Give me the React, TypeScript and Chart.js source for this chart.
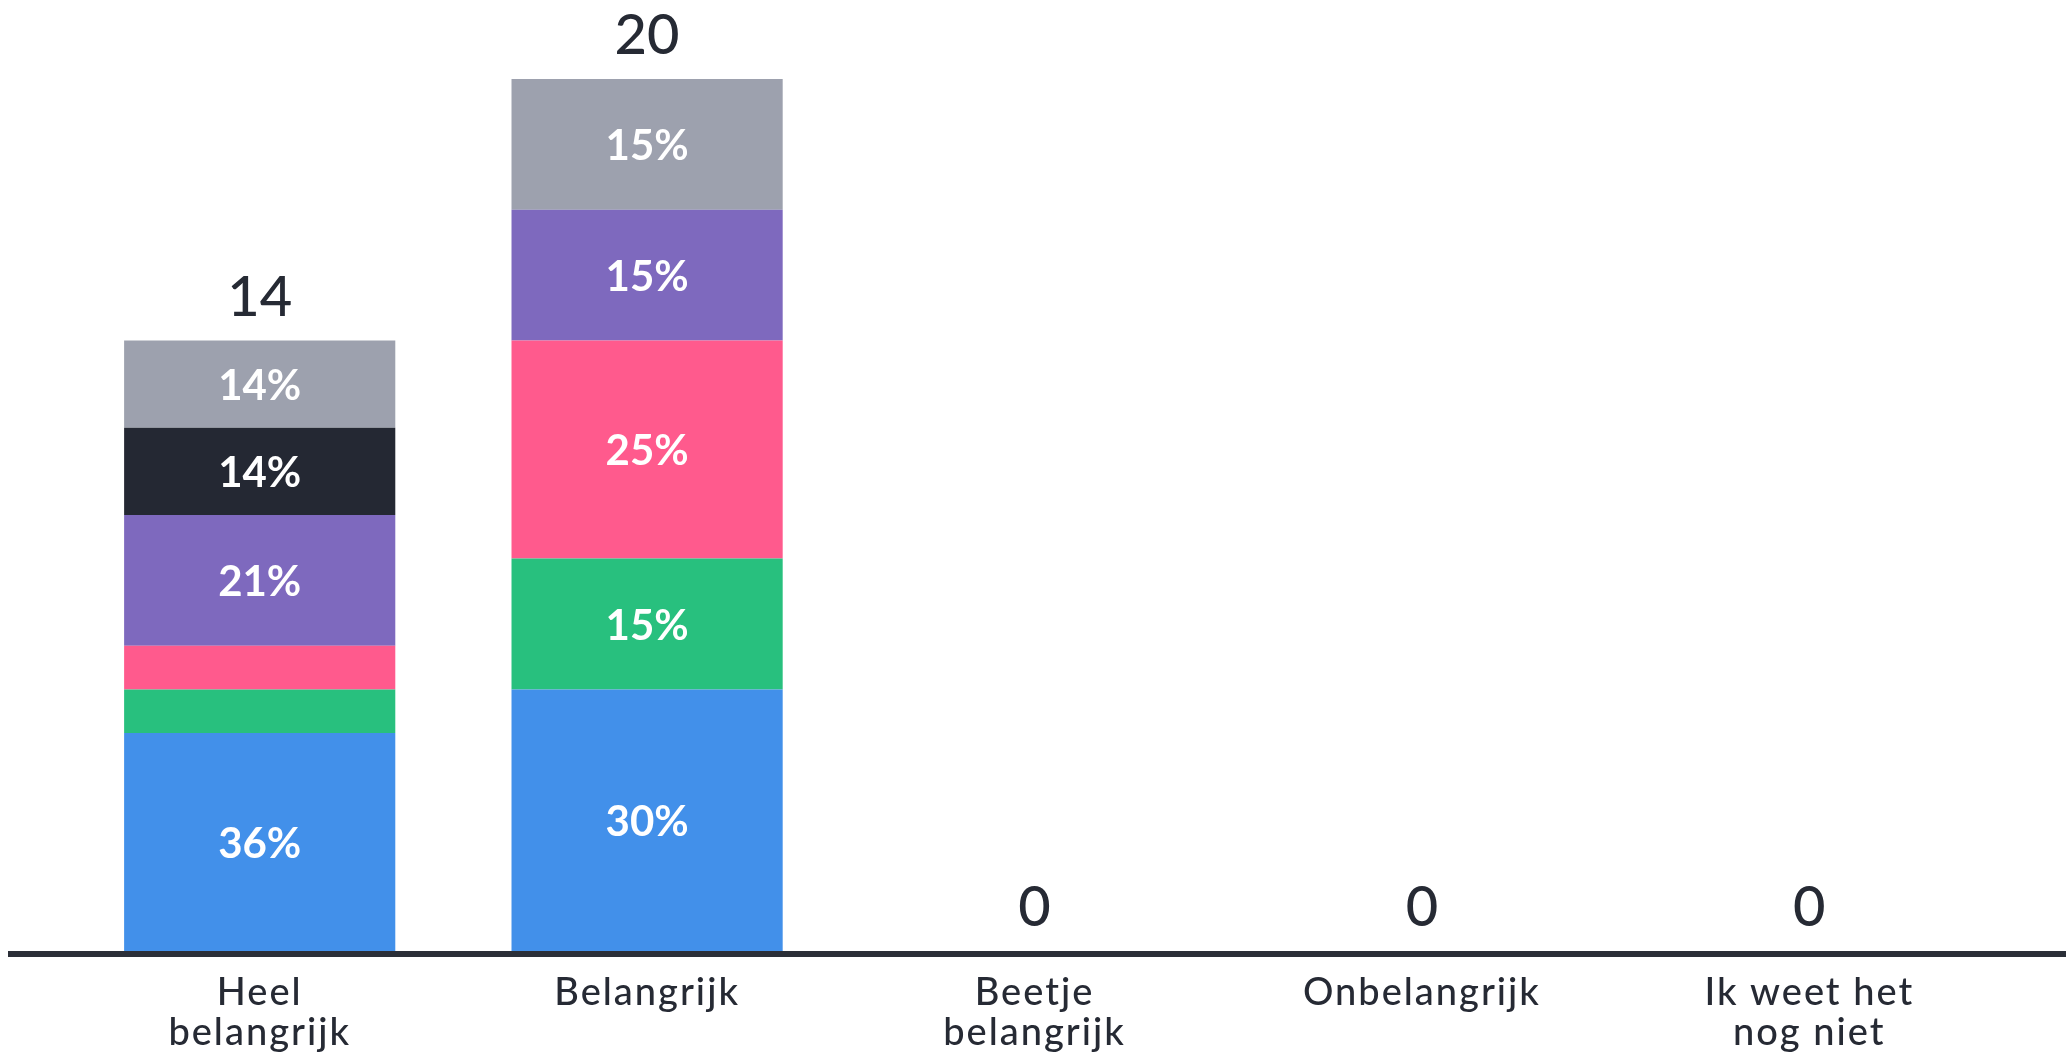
import React, { useEffect, useRef } from 'react';
import { Chart, registerables } from 'chart.js';

Chart.register(...registerables);

const categories: (string | string[])[] = [
  ['Heel', 'belangrijk'],
  'Belangrijk',
  ['Beetje', 'belangrijk'],
  'Onbelangrijk',
  ['Ik weet het', 'nog niet'],
];

const seriesNames = ['Groep 1', 'Groep 2', 'Groep 3', 'Groep 4', 'Groep 5', 'Groep 6'];
const seriesColors = ['#4290EA', '#28C07E', '#FF5A8D', '#7E69BE', '#242833', '#9DA1AE'];

const blueValues = [5, 6, 0, 0, 0];
const greenValues = [1, 3, 0, 0, 0];
const pinkValues = [1, 5, 0, 0, 0];
const purpleValues = [3, 3, 0, 0, 0];
const blackValues = [2, 0, 0, 0, 0];
const grayValues = [2, 3, 0, 0, 0];

const seriesValues = [blueValues, greenValues, pinkValues, purpleValues, blackValues, grayValues];

const FONT = 'Lato';
const TEXT_DARK = '#262a34';

const labelPlugin = {
  id: 'stackLabels',
  beforeDraw(chart: any) {
    chart.ctx.letterSpacing = '2px';
  },
  afterDatasetsDraw(chart: any) {
    const ctx = chart.ctx as CanvasRenderingContext2D;
    const xs = chart.scales.x;
    const ys = chart.scales.y;
    const totals = categories.map((_, i) =>
      chart.data.datasets.reduce((s: number, d: any) => s + (d.data[i] as number), 0)
    );
    ctx.save();
    (ctx as any).letterSpacing = '0px';
    // axis line
    ctx.strokeStyle = '#2b2f38';
    ctx.lineWidth = 6;
    ctx.beginPath();
    const yb = chart.chartArea.bottom + 3;
    ctx.moveTo(8, yb);
    ctx.lineTo(chart.width, yb);
    ctx.stroke();

    ctx.textAlign = 'center';
    ctx.textBaseline = 'middle';
    ctx.fillStyle = '#ffffff';
    ctx.font = `bold 42px ${FONT}`;
    chart.data.datasets.forEach((ds: any, di: number) => {
      const meta = chart.getDatasetMeta(di);
      meta.data.forEach((bar: any, i: number) => {
        const v = ds.data[i];
        const t = totals[i];
        if (!v || !t) return;
        const pct = Math.round((v / t) * 100);
        if (pct < 10) return;
        const p = bar.getProps(['x', 'y', 'base'], true);
        ctx.fillText(pct + '%', p.x, (p.y + p.base) / 2 + 2);
      });
    });

    ctx.fillStyle = TEXT_DARK;
    ctx.font = `500 56px ${FONT}`;
    ctx.textBaseline = 'alphabetic';
    totals.forEach((t: number, i: number) => {
      ctx.fillText(String(t), xs.getPixelForValue(i), ys.getPixelForValue(t) - 25);
    });
    ctx.restore();
  },
};

export default function App() {
  const ref = useRef<HTMLCanvasElement | null>(null);
  useEffect(() => {
    if (!ref.current) return;
    const chart = new Chart(ref.current, {
      type: 'bar',
      data: {
        labels: categories,
        datasets: seriesValues.map((vals, i) => ({
          label: seriesNames[i],
          data: vals,
          backgroundColor: seriesColors[i],
          borderWidth: 0,
          categoryPercentage: 1,
          barPercentage: 0.7,
        })),
      },
      options: {
        animation: false,
        responsive: false,
        layout: { padding: { top: 79, left: 66, right: 63, bottom: 0 } },
        plugins: {
          legend: { display: false },
          tooltip: { enabled: false },
        },
        scales: {
          x: {
            stacked: true,
            grid: { display: false },
            border: { display: false },
            ticks: {
              color: TEXT_DARK,
              padding: 14,
              font: { family: FONT, size: 38, weight: '500', lineHeight: 1.05 } as any,
              maxRotation: 0,
              autoSkip: false,
            },
            afterFit: (scale: any) => {
              scale.height = 105;
            },
          },
          y: {
            stacked: true,
            display: false,
            min: 0,
            max: 20,
          },
        },
      },
      plugins: [labelPlugin],
    });
    return () => chart.destroy();
  }, []);
  return (
    <div style={{ position: 'fixed', left: 0, top: 0, width: 2066, height: 1056, background: '#fff' }}>
      <canvas ref={ref} width={2066} height={1056} style={{ display: 'block' }} />
    </div>
  );
}
